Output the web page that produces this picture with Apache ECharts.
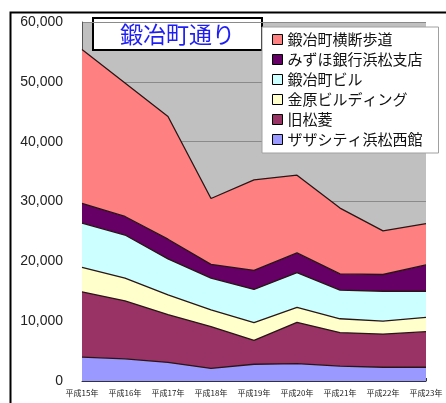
<!DOCTYPE html>
<html>
<head>
<meta charset="utf-8">
<script src="https://cdn.jsdelivr.net/npm/echarts@6/dist/echarts.min.js"></script>
<style>
html,body{margin:0;padding:0;background:#fff;}
#c{width:446px;height:403px;}
</style>
</head>
<body>
<div id="c"></div>
<script>
var categories = ['平成15年','平成16年','平成17年','平成18年','平成19年','平成20年','平成21年','平成22年','平成23年'];
var zazaCity = [4000, 3700, 3100, 2100, 2800, 2900, 2500, 2300, 2300];
var kyuMatsubishi = [10900, 9700, 8000, 7000, 4000, 6900, 5600, 5550, 5950];
var kinbaraBldg = [4100, 3800, 3300, 2800, 2950, 2500, 2300, 2150, 2400];
var kajimachiBldg = [7400, 7200, 6000, 5300, 5550, 5800, 4800, 5000, 4350];
var mizuho = [3300, 3100, 3300, 2300, 3200, 3300, 2700, 2800, 4400];
var crosswalk = [25700, 22300, 20500, 11000, 15100, 13000, 11000, 7300, 6900];
var yTicks = [0, 10000, 20000, 30000, 40000, 50000, 60000];

var seriesDefs = [
  {name:'ザザシティ浜松西館', data: zazaCity, color:'#9999FF'},
  {name:'旧松菱', data: kyuMatsubishi, color:'#993366'},
  {name:'金原ビルディング', data: kinbaraBldg, color:'#FFFFCC'},
  {name:'鍛冶町ビル', data: kajimachiBldg, color:'#CCFFFF'},
  {name:'みずほ銀行浜松支店', data: mizuho, color:'#660066'},
  {name:'鍛冶町横断歩道', data: crosswalk, color:'#FF8080'}
];

var chart = echarts.init(document.getElementById('c'), null, {renderer:'canvas'});
var jp = '"Noto Sans CJK JP", "Noto Sans", sans-serif';
var option = {
  animation: false,
  backgroundColor: '#fff',
  grid: {left: 82, top: 22, right: 20, bottom: 22, show: true, backgroundColor: '#C0C0C0', borderWidth: 0},
  legend: {
    orient: 'vertical',
    left: 262, top: 27,
    padding: [5, 16, 6, 10],
    backgroundColor: '#fff',
    borderColor: '#a0a0a0',
    borderWidth: 1,
    icon: 'rect',
    itemWidth: 10, itemHeight: 10, itemGap: 5,
    itemStyle: {borderColor: '#000', borderWidth: 1},
    textStyle: {fontFamily: jp, fontSize: 15, lineHeight: 15, color: '#111'},
    data: seriesDefs.slice().reverse().map(function(s){return s.name;})
  },
  xAxis: {
    type: 'category',
    data: categories,
    boundaryGap: false,
    axisLine: {show: true, lineStyle: {color: '#333', width: 1}},
    axisTick: {show: true, inside: true, length: 3, lineStyle: {color: '#333'}},
    axisLabel: {fontFamily: jp, fontSize: 8, color: '#222', margin: 8, interval: 0}
  },
  yAxis: {
    type: 'value',
    min: yTicks[0], max: yTicks[yTicks.length-1], interval: 10000,
    axisLine: {show: true, lineStyle: {color: '#555', width: 1}},
    axisTick: {show: false},
    splitLine: {show: true, lineStyle: {color: '#8a8a8a', width: 1}},
    axisLabel: {
      fontFamily: '"Liberation Sans", Arial, sans-serif', fontSize: 14, color: '#222', margin: 19,
      formatter: function(v){return v.toLocaleString('en-US');}
    }
  },
  series: seriesDefs.map(function(s){
    return {
      name: s.name, type: 'line', stack: 'total', data: s.data,
      symbol: 'none', smooth: false,
      itemStyle: {color: s.color},
      lineStyle: {color: '#2a1515', width: 1.3},
      areaStyle: {color: s.color, opacity: 1}
    };
  }),
  graphic: [
    {type: 'rect', left: 8, top: 10, z: 100, silent: true,
     shape: {x: 0, y: 0, width: 500, height: 500},
     style: {fill: 'none', stroke: '#000', lineWidth: 2}},
    {type: 'group', left: 92, top: 17, z: 101, children: [
      {type: 'rect', shape: {x: 0, y: 0, width: 169, height: 32},
       style: {fill: '#fff', stroke: '#000', lineWidth: 2}},
      {type: 'text', x: 84.5, y: 16,
       style: {text: '鍛冶町通り', fill: '#1E1EF5', font: '23px "Noto Sans CJK JP", sans-serif',
               textAlign: 'center', textVerticalAlign: 'middle'}}
    ]}
  ]
};
chart.setOption(option);
</script>
</body>
</html>
